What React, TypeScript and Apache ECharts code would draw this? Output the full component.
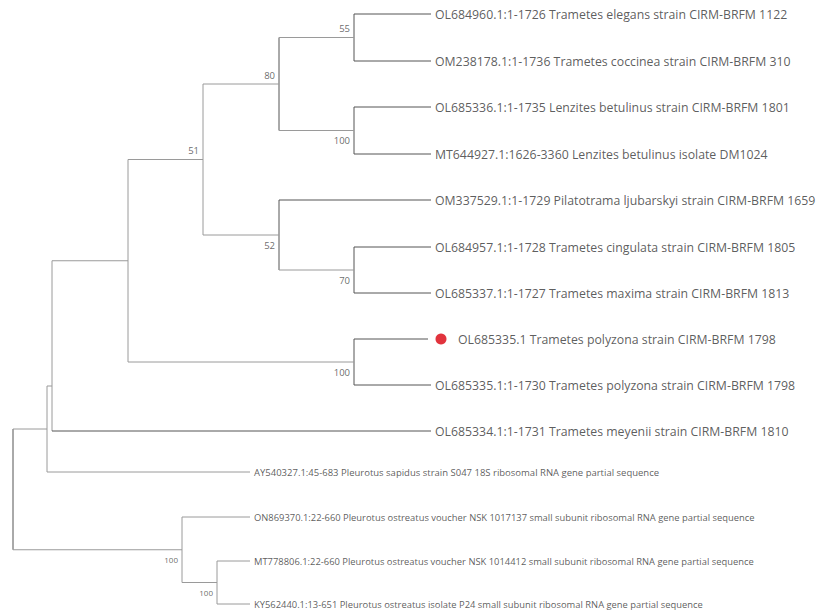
import React, { useEffect, useRef } from "react";
import * as echarts from "echarts";

// Leaf labels in display order (top to bottom)
const leafLabels: string[] = [
  "OL684960.1:1-1726 Trametes elegans strain CIRM-BRFM 1122",
  "OM238178.1:1-1736 Trametes coccinea strain CIRM-BRFM 310",
  "OL685336.1:1-1735 Lenzites betulinus strain CIRM-BRFM 1801",
  "MT644927.1:1626-3360 Lenzites betulinus isolate DM1024",
  "OM337529.1:1-1729 Pilatotrama ljubarskyi strain CIRM-BRFM 1659",
  "OL684957.1:1-1728 Trametes cingulata strain CIRM-BRFM 1805",
  "OL685337.1:1-1727 Trametes maxima strain CIRM-BRFM 1813",
  "OL685335.1 Trametes polyzona strain CIRM-BRFM 1798",
  "OL685335.1:1-1730 Trametes polyzona strain CIRM-BRFM 1798",
  "OL685334.1:1-1731 Trametes meyenii strain CIRM-BRFM 1810",
  "AY540327.1:45-683 Pleurotus sapidus strain S047 18S ribosomal RNA gene partial sequence",
  "ON869370.1:22-660 Pleurotus ostreatus voucher NSK 1017137 small subunit ribosomal RNA gene partial sequence",
  "MT778806.1:22-660 Pleurotus ostreatus voucher NSK 1014412 small subunit ribosomal RNA gene partial sequence",
  "KY562440.1:13-651 Pleurotus ostreatus isolate P24 small subunit ribosomal RNA gene partial sequence",
];

// Vertical row of each leaf (tree layout units)
const leafRow: number[] = [14, 61, 107, 154, 200, 247, 293, 339, 385, 431, 472, 517, 561, 604];

// Tip depth of each leaf branch (cumulative branch length units)
const leafDepth: number[] = [431, 431, 431, 431, 431, 431, 431, 428, 431, 431, 250, 250, 250, 250];

// Which leaf is the query sequence (marked with a red dot)
const queryLeaf = 7;

// Internal nodes: depth (cumulative branch length units)
const nodeDepth: Record<string, number> = {
  root: 13, A: 47, B: 52, C: 128, D: 203, E: 354, F: 279, G: 279,
  H: 354, I: 354, J: 354, P: 182, Q: 217,
};

// Bootstrap support values
const nodeSupport: Record<string, string> = {
  D: "51", F: "80", G: "52", H: "55", I: "100", J: "70", E: "100", P: "100", Q: "100",
};

// Topology: children of each internal node (string = internal node, number = leaf index)
const nodeChildren: Record<string, (string | number)[]> = {
  root: ["A", "P"],
  A: ["B", 10],
  B: ["C", 9],
  C: ["D", "E"],
  D: ["F", "G"],
  F: ["H", "I"],
  H: [0, 1],
  I: [2, 3],
  G: [4, "J"],
  J: [5, 6],
  E: [7, 8],
  P: [11, "Q"],
  Q: [12, 13],
};

// Node B's stem joins its parent at this row (as drawn in the original)
const nodeAttachRow: Record<string, number> = { B: 386 };

type Seg = [number, number, number, number, string];

function buildTree() {
  const segs: Seg[] = [];
  const supports: { x: number; y: number; text: string; above: boolean; small: boolean }[] = [];
  const attach = (c: string | number): number => {
    if (typeof c === "number") return leafRow[c];
    const kids = nodeChildren[c];
    const ys = kids.map(attach);
    const top = Math.min(...ys);
    const bot = Math.max(...ys);
    const d = nodeDepth[c];
    const dark = ["H", "F", "E", "J", "G", "I", "root"].includes(c);
    segs.push([d, top, d, bot, dark ? "#555" : "#9a9a9a"]);
    kids.forEach((k, i) => {
      const y = ys[i];
      const end = typeof k === "number" ? leafDepth[k] : nodeDepth[k];
      const isLeaf = typeof k === "number";
      segs.push([d, y, end, y, isLeaf && k < 10 ? "#555" : "#9a9a9a"]);
      if (!isLeaf && nodeSupport[k]) {
        supports.push({ x: nodeDepth[k], y, text: nodeSupport[k], above: i === 0, small: nodeDepth[k] < 250 && y > 500 });
      }
    });
    if (nodeAttachRow[c] !== undefined) return nodeAttachRow[c];
    return (top + bot) / 2;
  };
  attach("root");
  return { segs, supports };
}

export default function App() {
  const ref = useRef<HTMLDivElement>(null);
  useEffect(() => {
    document.body.style.margin = "0";
    const chart = echarts.init(ref.current!, null, { renderer: "svg" });
    const { segs, supports } = buildTree();

    const bigLeaves = leafLabels
      .map((name, i) => ({ name, i }))
      .filter((d) => d.i < 10)
      .map((d) => ({
        value: [leafDepth[d.i] + (d.i === queryLeaf ? 30 : 4), leafRow[d.i]],
        name: d.name,
      }));
    const smallLeaves = leafLabels
      .map((name, i) => ({ name, i }))
      .filter((d) => d.i >= 10)
      .map((d) => ({
        value: [leafDepth[d.i] + 4, leafRow[d.i]],
        name: d.name,
        label: { fontSize: d.i === 10 ? 9.5 : 9.4 },
      }));

    chart.setOption({
      animation: false,
      backgroundColor: "#ffffff",
      grid: { left: 0, right: 0, top: 0, bottom: 0 },
      xAxis: { type: "value", min: 0, max: 826, show: false },
      yAxis: { type: "value", min: 0, max: 613, inverse: true, show: false },
      series: [
        {
          type: "custom",
          data: segs.map((s) => [s[0], s[1], s[2], s[3], s[4]]),
          renderItem: (params: any, api: any) => {
            const p1 = api.coord([api.value(0), api.value(1)]);
            const p2 = api.coord([api.value(2), api.value(3)]);
            const color = segs[params.dataIndex][4];
            return {
              type: "line",
              shape: { x1: p1[0], y1: p1[1], x2: p2[0], y2: p2[1] },
              style: { stroke: color, lineWidth: 1 },
            };
          },
          silent: true,
        },
        {
          type: "scatter",
          symbolSize: 0,
          data: bigLeaves,
          label: {
            show: true,
            position: "right",
            distance: 0,
            formatter: (p: any) => p.name,
            fontFamily: "Open Sans",
            fontSize: 12.3,
            color: "#333",
          },
          silent: true,
        },
        {
          type: "scatter",
          symbolSize: 0,
          data: smallLeaves,
          label: {
            show: true,
            position: "right",
            distance: 0,
            formatter: (p: any) => p.name,
            fontFamily: "Open Sans",
            fontSize: 9.4,
            color: "#333",
          },
          silent: true,
        },
        {
          type: "scatter",
          symbol: "circle",
          symbolSize: 11,
          itemStyle: { color: "#d9000c" },
          data: [[leafDepth[queryLeaf] + 13, leafRow[queryLeaf]]],
          silent: true,
        },
        {
          type: "scatter",
          symbolSize: 0,
          data: supports.map((s) => ({
            value: [s.x - 4, s.y + (s.above ? -9 : 10)],
            name: s.text,
            label: { fontSize: s.small ? 8 : 9.5 },
          })),
          label: {
            show: true,
            position: "left",
            distance: 0,
            formatter: (p: any) => p.name,
            fontFamily: "Open Sans",
            fontSize: 9.5,
            color: "#444",
          },
          silent: true,
        },
      ],
    });
    return () => chart.dispose();
  }, []);
  return (
    <div
      ref={ref}
      style={{ position: "fixed", left: 0, top: 0, width: 826, height: 613 }}
    />
  );
}
